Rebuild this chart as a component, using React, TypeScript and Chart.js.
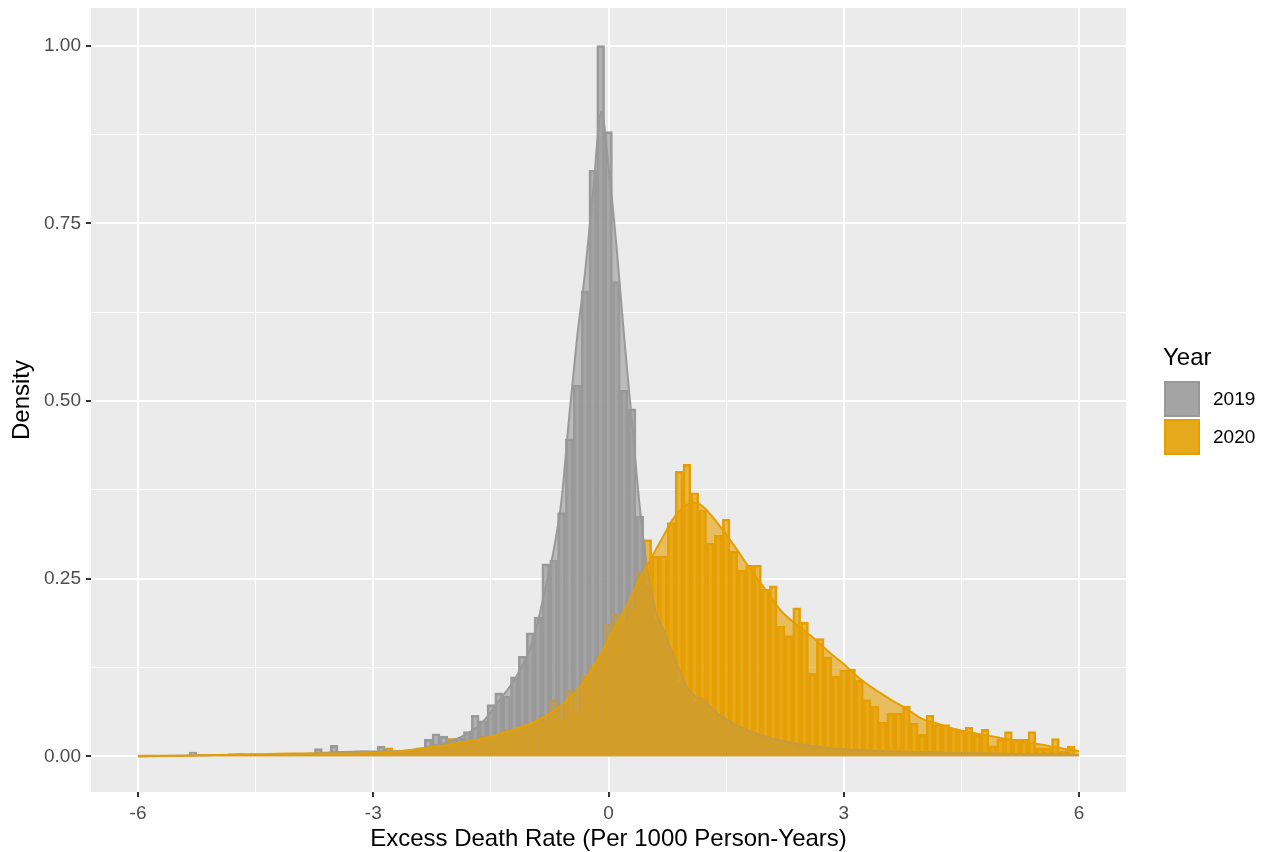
import React, { useEffect, useRef } from "react";
import { Chart, registerables } from "chart.js";

Chart.register(...registerables);

// ---------------- DATA ----------------
const BIN_START = -6.0;
const BIN_WIDTH = 0.1;

// Histogram densities, bins centred at -6.0, -5.9, ... 5.9
const hist2019: number[] = [
  0, 0, 0, 0, 0, 0, 0, 0.006, 0, 0,
  0, 0, 0.004, 0.004, 0, 0.002, 0, 0, 0, 0.002,
  0, 0.002, 0.004, 0.011, 0.006, 0.0155, 0.006, 0.006, 0.008, 0.008,
  0.006, 0.0145, 0.006, 0.008, 0.006, 0.008, 0.012, 0.024, 0.032, 0.0286,
  0.025, 0.026, 0.035, 0.058, 0.05, 0.073, 0.0895, 0.085, 0.112, 0.141,
  0.174, 0.196, 0.271, 0.276, 0.343, 0.447, 0.522, 0.655, 0.825, 1.0,
  0.879, 0.668, 0.515, 0.489, 0.338, 0.24, 0.19, 0.176, 0.15, 0.104,
  0.095, 0.076, 0.083, 0.062, 0.06, 0.048, 0.045, 0.04, 0.035, 0.032,
  0.025, 0.02, 0.022, 0.02, 0.016, 0.014, 0.012, 0.015, 0.01, 0.009,
  0.01, 0.008, 0.01, 0.007, 0.008, 0.006, 0.006, 0.005, 0.007, 0.004,
  0.006, 0.005, 0.004, 0.006, 0.004, 0.003, 0.005, 0.004, 0.006, 0.003,
  0.004, 0.003, 0.004, 0.002, 0.003, 0.002, 0.003, 0.002, 0.002, 0.001,
];

const hist2020: number[] = [
  0, 0, 0, 0, 0, 0, 0, 0, 0, 0,
  0, 0, 0, 0.004, 0.004, 0.004, 0.004, 0.004, 0.004, 0,
  0.004, 0.002, 0.002, 0.004, 0.002, 0.004, 0.004, 0.005, 0.006, 0.004,
  0.006, 0.008, 0.012, 0.006, 0.008, 0.01, 0.01, 0.012, 0.014, 0.016,
  0.025, 0.02, 0.022, 0.024, 0.0286, 0.028, 0.03, 0.038, 0.036, 0.04,
  0.047, 0.05, 0.05, 0.08, 0.052, 0.094, 0.064, 0.113, 0.127, 0.141,
  0.186, 0.2, 0.193, 0.207, 0.259, 0.305, 0.282, 0.282, 0.329, 0.401,
  0.411, 0.371, 0.347, 0.3, 0.311, 0.334, 0.289, 0.262, 0.269, 0.269,
  0.235, 0.24, 0.183, 0.17, 0.209, 0.189, 0.117, 0.166, 0.14, 0.113,
  0.122, 0.123, 0.107, 0.08, 0.071, 0.048, 0.061, 0.061, 0.071, 0.047,
  0.031, 0.058, 0.045, 0.045, 0.039, 0.036, 0.041, 0.031, 0.038, 0.015,
  0.024, 0.035, 0.024, 0.024, 0.035, 0.012, 0.012, 0.025, 0.0075, 0.0145,
];

// Kernel density curves
const densX: number[] = [
  -6, -5.5, -5, -4.5, -4, -3.5, -3, -2.6, -2.2, -2,
  -1.8, -1.6, -1.4, -1.2, -1, -0.9, -0.8, -0.7, -0.6, -0.5,
  -0.4, -0.3, -0.2, -0.09, 0, 0.1, 0.2, 0.3, 0.4, 0.5,
  0.6, 0.7, 0.8, 0.9, 1.0, 1.1, 1.2, 1.4, 1.6, 1.8,
  2.0, 2.2, 2.4, 2.6, 2.8, 3.0, 3.2, 3.4, 3.6, 3.8,
  4.0, 4.2, 4.4, 4.6, 4.8, 5.0, 5.2, 5.4, 5.6, 5.8, 6.0,
];

const dens2019: number[] = [
  0.0, 0.001, 0.002, 0.002, 0.003, 0.006, 0.007, 0.008, 0.016, 0.022,
  0.032, 0.049, 0.078, 0.108, 0.152, 0.19, 0.24, 0.29, 0.36, 0.48,
  0.59, 0.68, 0.79, 0.907, 0.83, 0.72, 0.59, 0.47, 0.35, 0.26,
  0.205, 0.178, 0.15, 0.122, 0.098, 0.085, 0.079, 0.06, 0.046, 0.036,
  0.028, 0.022, 0.018, 0.015, 0.012, 0.01, 0.009, 0.008, 0.007, 0.0065,
  0.006, 0.0055, 0.005, 0.005, 0.0045, 0.004, 0.0035, 0.003, 0.003, 0.0025, 0.002,
];

const dens2020: number[] = [
  0.001, 0.001, 0.002, 0.003, 0.004, 0.004, 0.005, 0.008, 0.014, 0.017,
  0.021, 0.025, 0.031, 0.038, 0.046, 0.051, 0.057, 0.064, 0.072, 0.082,
  0.093, 0.108, 0.125, 0.145, 0.165, 0.185, 0.205, 0.227, 0.25, 0.27,
  0.29, 0.31, 0.33, 0.345, 0.354, 0.357, 0.352, 0.327, 0.297, 0.265,
  0.235, 0.205, 0.185, 0.168, 0.148, 0.13, 0.11, 0.094, 0.08, 0.067,
  0.053, 0.046, 0.039, 0.034, 0.03, 0.026, 0.022, 0.019, 0.015, 0.011, 0.0075,
];

const seriesNames: string[] = ["2019", "2020"];
const seriesColors: string[] = ["#999999", "#E69F00"];
const legendTitle = "Year";
const xTitle = "Excess Death Rate (Per 1000 Person-Years)";
const yTitle = "Density";

const xMajorTicks: number[] = [-6, -3, 0, 3, 6];
const xMinorTicks: number[] = [-4.5, -1.5, 1.5, 4.5];
const yMajorTicks: number[] = [0, 0.25, 0.5, 0.75, 1.0];
const yMinorTicks: number[] = [0.125, 0.375, 0.625, 0.875];

// ---------------- STYLE ----------------
const W = 1266;
const H = 852;
const FONT = "'Liberation Sans', Arial, Helvetica, sans-serif";
const HIST_ALPHA = 0.7;
const DENS_ALPHA = 0.6;

function rgba(hex: string, a: number) {
  const r = parseInt(hex.slice(1, 3), 16);
  const g = parseInt(hex.slice(3, 5), 16);
  const b = parseInt(hex.slice(5, 7), 16);
  return `rgba(${r},${g},${b},${a})`;
}

const isMajor = (list: number[], v: number) => list.some((t) => Math.abs(t - v) < 1e-9);

const panelBg = {
  id: "panelBg",
  beforeDraw(chart: any) {
    const { ctx, chartArea } = chart;
    ctx.save();
    ctx.fillStyle = "#EBEBEB";
    ctx.fillRect(chartArea.left, chartArea.top, chartArea.right - chartArea.left, chartArea.bottom - chartArea.top);
    ctx.restore();
  },
};

const ggLegend = {
  id: "ggLegend",
  afterDraw(chart: any) {
    const { ctx } = chart;
    ctx.save();
    ctx.fillStyle = "#000000";
    ctx.font = `24px ${FONT}`;
    ctx.textAlign = "left";
    ctx.textBaseline = "middle";
    ctx.fillText(legendTitle, 1163, 358);
    const keyX = 1164;
    const keyY0 = 381;
    const keySize = 36;
    const gap = 38;
    seriesNames.forEach((name, i) => {
      const y = keyY0 + i * gap;
      const col = seriesColors[i];
      ctx.fillStyle = "#F2F2F2";
      ctx.fillRect(keyX, y, keySize, keySize);
      ctx.fillStyle = rgba(col, HIST_ALPHA);
      ctx.fillRect(keyX, y, keySize, keySize);
      ctx.fillStyle = rgba(col, DENS_ALPHA);
      ctx.fillRect(keyX, y, keySize, keySize);
      ctx.strokeStyle = col;
      ctx.lineWidth = 2;
      ctx.strokeRect(keyX + 1, y + 1, keySize - 2, keySize - 2);
      ctx.fillStyle = "#000000";
      ctx.font = `19px ${FONT}`;
      ctx.fillText(name, 1213, y + keySize / 2 + 1);
    });
    ctx.restore();
  },
};

export default function App() {
  const canvasRef = useRef<HTMLCanvasElement | null>(null);

  useEffect(() => {
    if (!canvasRef.current) return;
    const binCenters = hist2019.map((_, i) => Math.round((BIN_START + i * BIN_WIDTH) * 10) / 10);

    const barDs = (vals: number[], i: number, order: number) => ({
      type: "bar" as const,
      label: seriesNames[i],
      data: binCenters.map((x, k) => ({ x, y: vals[k] })),
      backgroundColor: rgba(seriesColors[i], HIST_ALPHA),
      borderColor: seriesColors[i],
      borderWidth: 2,
      borderSkipped: false,
      grouped: false,
      barPercentage: 1,
      categoryPercentage: 1,
      order,
    });
    const lineDs = (vals: number[], i: number, order: number) => ({
      type: "line" as const,
      label: seriesNames[i] + " density",
      data: densX.map((x, k) => ({ x, y: vals[k] })),
      borderColor: seriesColors[i],
      backgroundColor: rgba(seriesColors[i], DENS_ALPHA),
      borderWidth: 2,
      fill: "origin",
      pointRadius: 0,
      cubicInterpolationMode: "monotone" as const,
      order,
    });

    const chart = new Chart(canvasRef.current, {
      type: "line",
      data: {
        datasets: [
          barDs(hist2019, 0, 4),
          barDs(hist2020, 1, 3),
          lineDs(dens2019, 0, 2),
          lineDs(dens2020, 1, 1),
        ] as any,
      },
      options: {
        responsive: false,
        animation: false,
        devicePixelRatio: 1,
        layout: { padding: { left: 0, top: 8, right: 140, bottom: 0 } },
        plugins: {
          legend: { display: false },
          tooltip: { enabled: false },
        },
        scales: {
          x: {
            type: "linear",
            min: -6.6,
            max: 6.6,
            offset: false,
            afterBuildTicks: (scale: any) => {
              scale.ticks = [...xMajorTicks, ...xMinorTicks].sort((a, b) => a - b).map((v) => ({ value: v }));
            },
            afterFit: (scale: any) => {
              scale.height = 60;
              scale.paddingLeft = 0;
              scale.paddingRight = 0;
              scale.paddingTop = 0;
              scale.paddingBottom = 0;
            },
            grid: {
              offset: false,
              color: "#FFFFFF",
              lineWidth: (c: any) => (isMajor(xMajorTicks, c.tick?.value) ? 2 : 1),
              tickColor: (c: any) => (isMajor(xMajorTicks, c.tick?.value) ? "#333333" : "rgba(0,0,0,0)"),
              tickLength: 5,
              tickWidth: 2,
            },
            border: { display: false },
            ticks: {
              autoSkip: false,
              maxRotation: 0,
              padding: 5,
              color: "#4D4D4D",
              font: { family: FONT, size: 19 },
              callback: (v: any) => (isMajor(xMajorTicks, Number(v)) ? String(v) : ""),
            },
            title: {
              display: true,
              text: xTitle,
              color: "#000000",
              font: { family: FONT, size: 24 },
              padding: { top: 0, bottom: -2 },
            },
          },
          y: {
            type: "linear",
            min: -0.05,
            max: 1.053,
            afterBuildTicks: (scale: any) => {
              scale.ticks = [...yMajorTicks, ...yMinorTicks].sort((a, b) => a - b).map((v) => ({ value: v }));
            },
            afterFit: (scale: any) => {
              scale.width = 91;
              scale.paddingLeft = 0;
              scale.paddingRight = 0;
              scale.paddingTop = 0;
              scale.paddingBottom = 0;
            },
            grid: {
              color: "#FFFFFF",
              lineWidth: (c: any) => (isMajor(yMajorTicks, c.tick?.value) ? 2 : 1),
              tickColor: (c: any) => (isMajor(yMajorTicks, c.tick?.value) ? "#333333" : "rgba(0,0,0,0)"),
              tickLength: 5,
              tickWidth: 2,
            },
            border: { display: false },
            ticks: {
              autoSkip: false,
              padding: 5,
              color: "#4D4D4D",
              font: { family: FONT, size: 19 },
              callback: (v: any) => (isMajor(yMajorTicks, Number(v)) ? Number(v).toFixed(2) : ""),
            },
            title: {
              display: true,
              text: yTitle,
              color: "#000000",
              font: { family: FONT, size: 24 },
              padding: { top: 8, bottom: 0 },
            },
          },
        },
      } as any,
      plugins: [panelBg, ggLegend],
    });
    return () => chart.destroy();
  }, []);

  return (
    <div style={{ position: "absolute", left: 0, top: 0, width: W, height: H, background: "#FFFFFF" }}>
      <canvas ref={canvasRef} width={W} height={H} style={{ display: "block" }} />
    </div>
  );
}
